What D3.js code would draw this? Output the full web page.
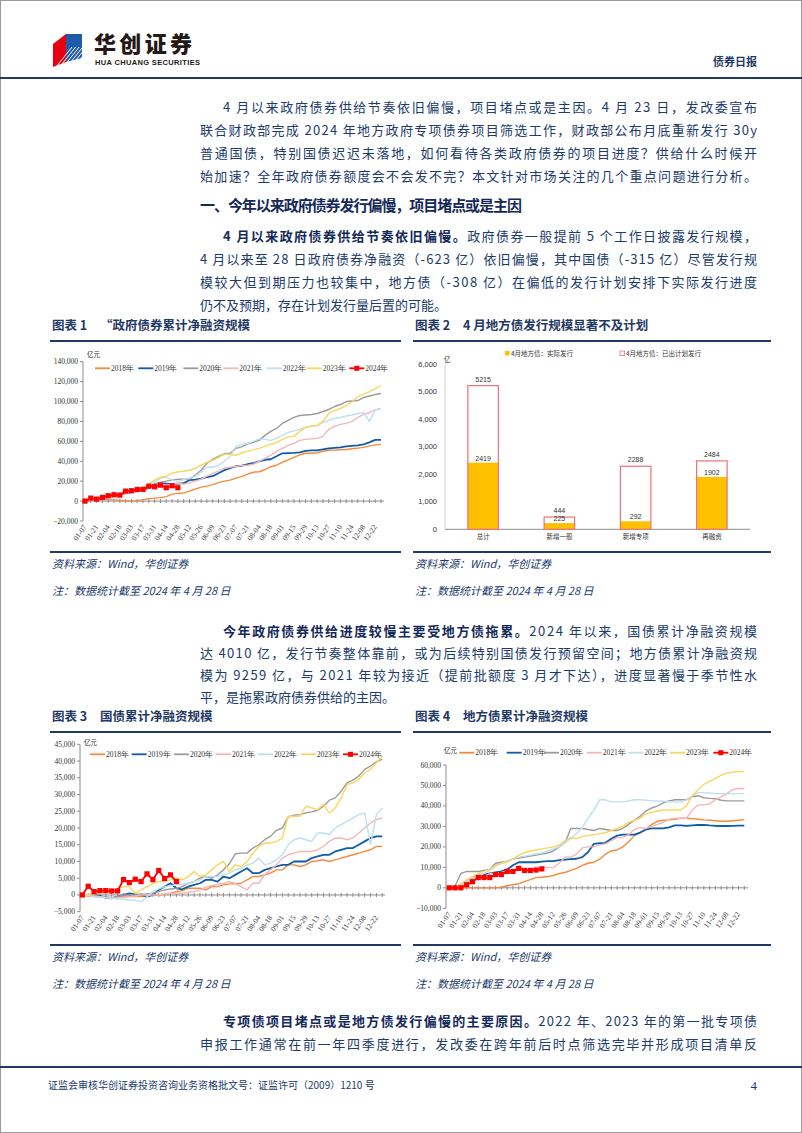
<!DOCTYPE html>
<html>
<head>
<meta charset="utf-8">
<script src="https://cdn.jsdelivr.net/npm/d3@7"></script>
<style>
  body { margin: 0; background: #fff; }
  svg { display: block; }
</style>
</head>
<body>
<div id="page"></div>
<script>
// ---- data ----
var weeks = ["01-07","01-14","01-21","01-28","02-04","02-11","02-18","02-25","03-03","03-10","03-17","03-24",
  "03-31","04-07","04-14","04-21","04-28","05-05","05-12","05-19","05-26","06-02","06-09","06-16","06-23","06-30",
  "07-07","07-14","07-21","07-28","08-04","08-11","08-18","08-25","09-01","09-08","09-15","09-22","09-29","10-06",
  "10-13","10-20","10-27","11-03","11-10","11-17","11-24","12-01","12-08","12-15","12-22","12-29"];
var years = ["2018年","2019年","2020年","2021年","2022年","2023年","2024年"];

// 图表1 政府债券累计净融资（亿元）
var gov2018 = [0,500,1000,1500,1500,1200,800,300,200,500,1500,2500,3000,3500,4500,7000,7800,8000,10000,12000,14000,15000,16500,18500,20000,21000,23000,24500,27000,29000,29500,31500,34500,36000,39000,41500,44000,46500,48000,48000,48500,50000,51000,51200,51500,51800,52500,53200,54000,55500,56500,57000];
var gov2019 = [0,1000,2000,3000,4000,5000,6000,8000,9000,10000,11500,13000,17000,18000,17500,17000,17500,18000,21000,21500,22500,24000,25000,28000,31000,33000,35000,35500,37000,38000,40000,41500,42000,45000,48000,48200,48500,49000,50500,51000,51000,52000,53000,53500,54000,55000,55500,56000,57000,59000,61500,61500];
var gov2020 = [0,1000,2000,3500,5000,6000,7000,8000,9000,10000,11500,13000,17000,19000,20000,21000,22000,22000,22000,26000,31000,38000,42000,45000,47500,48000,53000,54500,57500,59000,61000,66000,70000,73000,78000,81000,84000,86000,86500,87000,88000,90000,92000,95000,97000,100000,100500,101000,104000,105500,107000,108000];
var gov2021 = [0,1000,2000,3000,4500,5500,6500,8000,9000,10500,12000,13500,15000,15500,16000,17000,18000,17000,18000,20000,22000,25000,27500,30000,33000,34000,35000,35500,36000,37000,40000,43000,46000,50000,53000,56000,58000,61000,62000,62500,63000,65000,72000,75000,77000,78000,80000,84000,87000,89000,91500,93000];
var gov2022 = [0,1000,2000,3500,5000,6000,7000,8500,10000,11000,12500,15000,19000,23000,24000,21000,20000,21500,23000,25000,29000,34000,34000,36000,40000,45000,55000,57000,58000,60000,62500,62000,61000,63000,66000,69000,70500,72000,74000,75000,75500,79000,81000,83000,84000,85500,86500,88000,89000,80000,91500,93000];
var gov2023 = [0,1500,3000,4500,5500,6500,7500,9000,10500,12000,14000,17000,21000,24000,25000,28000,29500,30000,31000,33000,36000,39000,41000,44000,47000,47000,46000,48500,50000,51500,53000,55000,57000,58500,62000,64500,65000,70000,74000,75500,76000,80000,88000,91000,93000,96000,99500,105000,107500,110000,113000,116000];
var gov2024 = [0,3000,2000,3700,5400,6400,6000,10000,10400,11700,11700,15000,14400,16000,13400,15400,13400];

// 图表2 4月地方债发行（亿元）
var barCats = ["总计","新增一般","新增专项","再融资"];
var barActual = [2419,225,292,1902];
var barPlan = [5215,444,2288,2484];
var barLegend = ["4月地方债：实际发行","4月地方债：已出计划发行"];

// 图表3 国债累计净融资（亿元）
var nat2018 = [0,-300,-500,-500,-800,-1000,-800,-500,-500,-500,-500,-300,0,0,300,500,1000,1300,2000,2000,2000,1500,2500,2500,3000,3300,3300,3500,4500,5500,5500,6000,6500,7500,7500,9000,9000,8500,9000,10000,10200,10500,10000,10500,11000,11500,12000,12500,13000,13500,14500,14500];
var nat2019 = [0,0,0,-300,-800,-1000,-500,0,500,200,0,-500,0,1500,2500,3500,2000,1700,2500,3000,3500,4500,4500,4000,5500,5000,6000,7000,8000,6500,6500,7500,8000,8500,9000,9000,10000,10000,10000,11000,11500,12000,12000,13000,13500,14000,14000,15000,16000,17000,17500,17500];
var nat2020 = [0,0,-200,-500,-500,-800,-500,0,0,0,200,300,500,1000,1500,1800,2000,2500,3500,4000,5000,5500,5000,6000,7500,9300,12300,12500,12500,14000,15000,16500,17500,19300,20000,23300,23800,24000,24500,24800,25300,26500,28300,29000,31000,33500,34300,35500,37500,38500,39800,40500];
var nat2021 = [0,-200,-300,-500,-800,-1000,-800,-700,-500,-300,0,0,0,0,300,500,500,500,800,1000,1500,2300,2800,3200,3500,4000,3500,2500,1500,3500,3500,6000,7500,9000,11000,12000,12500,13000,13000,13000,13500,14500,16000,17000,17000,16500,17000,18500,20000,21500,22500,23000];
var nat2022 = [0,-200,-500,-600,-800,-1000,-1200,-1300,-1500,-1600,-2000,-500,1000,1800,2500,2800,3000,3200,3500,4000,4500,5500,5500,5500,6000,6500,7500,8000,9000,9500,11000,9000,9500,10500,12000,15000,16500,17000,16500,16000,18500,18500,18000,20000,21000,22000,23000,24000,24500,15000,24000,26000];
var nat2023 = [0,200,300,500,800,1000,1800,2500,2500,500,1500,2500,3500,4000,4200,4500,5000,4500,5500,7000,5500,6000,7500,9000,10000,7000,9000,8500,10000,12500,14500,15500,15500,16000,17000,23500,23500,23500,26500,26000,25500,27000,24500,26000,29000,33000,33500,34500,36500,37500,39500,41500];
var nat2024 = [0,2600,1000,1300,1300,1200,1200,4600,3700,4700,4000,6300,4600,7300,4900,6000,4010];

// 图表4 地方债累计净融资（亿元）
var loc2018 = [0,0,0,0,0,0,0,0,0,300,1000,1500,2000,3000,4000,5000,5200,5500,6000,7000,7500,8500,9500,11000,12000,12500,14000,16500,18000,18500,20000,22500,25500,27000,28500,31000,32500,33000,33200,33500,34000,34000,33800,33500,33200,33000,32800,32500,32500,32800,33000,33300];
var loc2019 = [0,0,1500,3000,5000,6000,6500,7000,7500,8000,9000,11000,12500,12500,12500,12500,12800,13000,13000,13500,13800,14000,14200,15000,17500,21500,21800,22000,24000,25500,26000,26000,26000,27000,28500,29000,29000,29000,29500,30500,30500,30300,30500,30700,30800,30500,30300,30200,30200,30300,30400,30400];
var loc2020 = [0,1000,7000,8000,8000,8000,8500,9000,12000,12500,13000,14000,14500,15000,15500,16000,16500,17000,18000,20000,22000,29000,29000,29000,28500,28000,29000,28500,28000,28000,29000,31000,33000,35000,37500,39000,40000,41500,42500,43000,43000,43000,44500,45000,44000,43700,43500,42800,42500,42500,42500,42500];
var loc2021 = [0,0,500,3000,5000,5200,5500,7000,7200,7500,8000,8500,8800,9000,9300,9500,10000,10000,9800,12000,15000,15000,16500,19500,20000,20000,21000,21500,23000,24500,24500,26000,28500,29500,29000,30000,31000,32000,33500,34000,34000,34000,38000,40500,40500,41000,43000,44500,46000,48000,48500,48500];
var loc2022 = [0,0,1500,3000,5000,6000,7000,8500,10500,12000,13000,14000,15000,15500,16000,16500,17000,18000,19000,20000,22000,24000,26500,29500,34000,38000,43000,43000,42000,42000,42000,42500,43000,43000,42800,42500,42500,42300,42000,42000,42000,43000,45000,46500,46500,46300,46000,46000,46000,46000,46000,46000];
var loc2023 = [0,0,2000,4000,5500,7000,8000,9000,11000,12000,12500,14000,16000,17000,18000,18500,19000,19500,20000,21000,23000,24500,24000,25000,25500,26000,26500,27000,28000,29000,30000,32000,33000,34000,36000,37000,37500,38000,38000,38000,38000,40000,45000,48000,50500,52000,53500,55000,56000,56500,56800,56800];
var loc2024 = [0,0,0,1500,3000,5000,5000,5000,6500,6500,8000,8000,9500,8500,8500,8700,9259];

var yearColors = ["#f58a3c","#0f5ca8","#9b9b9b","#f4b6b8","#bddff0","#fad65c","#ff0000"];

// ---- page ----
var W = 802, H = 1133;
var navy = "#1f3864", ink = "#203a6c";
var cjk = "'Noto Sans CJK SC', 'Noto Sans', sans-serif";
var serif = "'Liberation Serif', 'DejaVu Serif', serif";
var sans = "'Liberation Sans', Arial, sans-serif";

var svg = d3.select("#page").append("svg").attr("width", W).attr("height", H);
svg.append("rect").attr("x", 0.5).attr("y", 0.5).attr("width", W - 1).attr("height", H - 1)
  .attr("fill", "#fff").attr("stroke", "#9a9a9a");

// logo
var logo = svg.append("g");
logo.append("polygon").attr("points", "53,44 66,34 66,62 53,67").attr("fill", "#e60012");
logo.append("polygon").attr("points", "66,34 82,34 82,58 66,62").attr("fill", "#1d5aa8");
for (var k = 0; k < 7; k++) {
  logo.append("line").attr("x1", 56 + k * 3.6).attr("y1", 67).attr("x2", 72 + k * 3.6).attr("y2", 47)
    .attr("stroke", "#fff").attr("stroke-width", 1);
}
logo.append("text").attr("x", 94).attr("y", 52).attr("font-family", cjk).attr("font-weight", 900)
  .attr("font-size", 22).attr("fill", "#231815").attr("textLength", 98).text("华创证券");
logo.append("text").attr("x", 95).attr("y", 65).attr("font-family", sans).attr("font-weight", 700)
  .attr("font-size", 7.5).attr("fill", "#231815").attr("textLength", 105).text("HUA CHUANG SECURITIES");
svg.append("text").attr("x", 757).attr("y", 66).attr("text-anchor", "end").attr("font-family", cjk)
  .attr("font-weight", 700).attr("font-size", 11).attr("fill", navy).text("债券日报");
svg.append("rect").attr("x", 0).attr("y", 77).attr("width", W).attr("height", 2).attr("fill", navy);

// paragraphs: each line is [x, segments, justify]
function para(lines, y0, lh) {
  lines.forEach(function (ln, k) {
    var t = svg.append("text").attr("x", ln[0]).attr("y", y0 + k * lh)
      .attr("font-family", cjk).attr("font-size", 13).attr("fill", ink);
    ln[1].forEach(function (s) {
      t.append("tspan").attr("font-weight", s[1] ? 700 : 400).attr("fill", s[1] ? "#14295a" : ink).text(s[0]);
    });
    if (ln[2]) t.attr("textLength", 757 - ln[0]).attr("lengthAdjust", "spacing");
  });
}

para([
  [223, [["4 月以来政府债券供给节奏依旧偏慢，项目堵点或是主因。4 月 23 日，发改委宣布"]], true],
  [200, [["联合财政部完成 2024 年地方政府专项债券项目筛选工作，财政部公布月底重新发行 30y"]], true],
  [200, [["普通国债，特别国债迟迟未落地，如何看待各类政府债券的项目进度？供给什么时候开"]], true],
  [200, [["始加速？全年政府债券额度会不会发不完？本文针对市场关注的几个重点问题进行分析。"]], true]
], 112, 23);

svg.append("text").attr("x", 200).attr("y", 211).attr("font-family", cjk).attr("font-weight", 700)
  .attr("font-size", 15).attr("fill", "#14295a").attr("textLength", 322).attr("lengthAdjust", "spacing")
  .text("一、今年以来政府债券发行偏慢，项目堵点或是主因");

para([
  [223, [["4 月以来政府债券供给节奏依旧偏慢。", true], ["政府债券一般提前 5 个工作日披露发行规模，"]], true],
  [200, [["4 月以来至 28 日政府债券净融资（-623 亿）依旧偏慢，其中国债（-315 亿）尽管发行规"]], true],
  [200, [["模较大但到期压力也较集中，地方债（-308 亿）在偏低的发行计划安排下实际发行进度"]], true],
  [200, [["仍不及预期，存在计划发行量后置的可能。"]], false]
], 241, 23);

para([
  [223, [["今年政府债券供给进度较慢主要受地方债拖累。", true], ["2024 年以来，国债累计净融资规模"]], true],
  [200, [["达 4010 亿，发行节奏整体靠前，或为后续特别国债发行预留空间；地方债累计净融资规"]], true],
  [200, [["模为 9259 亿，与 2021 年较为接近（提前批额度 3 月才下达），进度显著慢于季节性水"]], true],
  [200, [["平，是拖累政府债券供给的主因。"]], false]
], 636, 22);

para([
  [223, [["专项债项目堵点或是地方债发行偏慢的主要原因。", true], ["2022 年、2023 年的第一批专项债"]], true],
  [200, [["申报工作通常在前一年四季度进行，发改委在跨年前后时点筛选完毕并形成项目清单反"]], true]
], 1026, 23);

// chart frames: titles, rules, sources
function frame(x0, x1, no, title, ty, ruleTop, ruleBot) {
  svg.append("text").attr("x", x0 + 2).attr("y", ty).attr("font-family", cjk).attr("font-weight", 700)
    .attr("font-size", 12.5).attr("fill", navy).text("图表 " + no);
  svg.append("text").attr("x", x0 + 50).attr("y", ty).attr("font-family", cjk).attr("font-weight", 700)
    .attr("font-size", 12.5).attr("fill", navy).text(title);
  svg.append("rect").attr("x", x0).attr("y", ruleTop).attr("width", x1 - x0).attr("height", 2).attr("fill", navy);
  svg.append("rect").attr("x", x0).attr("y", ruleBot).attr("width", x1 - x0).attr("height", 2).attr("fill", navy);
  svg.append("text").attr("x", x0 + 2).attr("y", ruleBot + 17).attr("font-family", cjk).attr("font-style", "italic")
    .attr("font-size", 11).attr("fill", ink).text("资料来源：Wind，华创证券");
  svg.append("text").attr("x", x0 + 2).attr("y", ruleBot + 44).attr("font-family", cjk).attr("font-style", "italic")
    .attr("font-size", 11).attr("fill", ink).text("注：数据统计截至 2024 年 4 月 28 日");
}
frame(50, 401, 1, "“政府债券累计净融资规模", 330, 340, 551);
frame(413, 771, 2, "4 月地方债发行规模显著不及计划", 330, 340, 551);
frame(50, 401, 3, "国债累计净融资规模", 721, 731, 944);
frame(413, 771, 4, "地方债累计净融资规模", 721, 731, 944);

// footer
svg.append("rect").attr("x", 0).attr("y", 1066).attr("width", W).attr("height", 2).attr("fill", navy);
svg.append("text").attr("x", 48).attr("y", 1089).attr("font-family", cjk).attr("font-size", 10).attr("fill", ink)
  .text("证监会审核华创证券投资咨询业务资格批文号：证监许可（2009）1210 号");
svg.append("text").attr("x", 757).attr("y", 1090).attr("text-anchor", "end").attr("font-family", serif)
  .attr("font-size", 13).attr("fill", ink).text("4");

// ---- line charts ----
function lineChart(c) {
  var g = svg.append("g");
  var x = d3.scalePoint().domain(weeks).range(c.xr);
  var y = d3.scaleLinear().domain(c.yd).range(c.yr);
  var axisCol = "#8c8c8c";
  // y axis
  g.append("line").attr("x1", c.ax).attr("x2", c.ax).attr("y1", c.yr[1]).attr("y2", c.yr[0]).attr("stroke", axisCol);
  var yt = d3.range(c.yd[0], c.yd[1] + 1, c.step);
  g.selectAll(".yt").data(yt).enter().append("line")
    .attr("x1", c.ax - 3).attr("x2", c.ax).attr("y1", function (d) { return y(d); }).attr("y2", function (d) { return y(d); })
    .attr("stroke", axisCol);
  g.selectAll(".yl").data(yt).enter().append("text")
    .attr("x", c.ax - 5).attr("y", function (d) { return y(d) + 2.5; }).attr("text-anchor", "end")
    .attr("font-family", serif).attr("font-size", 7.5).attr("fill", "#333").text(d3.format(","));
  // x axis at zero
  var y0 = y(0);
  g.append("line").attr("x1", c.ax).attr("x2", c.axr).attr("y1", y0).attr("y2", y0).attr("stroke", axisCol);
  g.selectAll(".xt").data(weeks).enter().append("line")
    .attr("x1", function (d) { return x(d); }).attr("x2", function (d) { return x(d); })
    .attr("y1", y0 - 2).attr("y2", y0 + 2).attr("stroke", axisCol);
  g.selectAll(".xl").data(weeks.filter(function (d, i) { return i % 2 === 0; })).enter().append("text")
    .attr("transform", function (d) { return "translate(" + (x(d) + 2) + "," + (c.yr[0] + 6) + ") rotate(-55)"; })
    .attr("text-anchor", "end").attr("font-family", serif).attr("font-size", 7.5).attr("fill", "#333").text(function (d) { return d; });
  // unit
  g.append("text").attr("x", c.unit[0]).attr("y", c.unit[1]).attr("font-family", cjk).attr("font-size", 6.5)
    .attr("fill", "#333").text("亿元");
  // series
  var line = d3.line().x(function (d, i) { return x(weeks[i]); }).y(function (d) { return y(d); });
  c.series.forEach(function (s, k) {
    g.append("path").attr("d", line(s)).attr("fill", "none").attr("stroke", yearColors[k])
      .attr("stroke-width", k === 1 ? 1.8 : (k === 6 ? 1.8 : 1.4)).attr("stroke-linejoin", "round");
  });
  var last = c.series[6];
  g.selectAll(".mk").data(last).enter().append("rect")
    .attr("x", function (d, i) { return x(weeks[i]) - 2.6; }).attr("y", function (d) { return y(d) - 2.6; })
    .attr("width", 5.2).attr("height", 5.2).attr("fill", "#ff0000");
  // legend
  years.forEach(function (yr, k) {
    var lx = c.lx[k];
    g.append("line").attr("x1", lx).attr("x2", lx + 15).attr("y1", c.ly).attr("y2", c.ly)
      .attr("stroke", yearColors[k]).attr("stroke-width", 1.8);
    if (k === 6) g.append("rect").attr("x", lx + 5).attr("y", c.ly - 2.5).attr("width", 5).attr("height", 5).attr("fill", "#ff0000");
    g.append("text").attr("x", lx + 16).attr("y", c.ly + 2.6).attr("font-family", serif).attr("font-size", 7.5)
      .attr("fill", "#333").text(yr);
  });
}

lineChart({
  series: [gov2018, gov2019, gov2020, gov2021, gov2022, gov2023, gov2024],
  xr: [85, 381], ax: 83, axr: 384, yd: [-20000, 140000], yr: [521, 361.7], step: 20000,
  ly: 368.3, lx: [95, 138.3, 183.3, 223.3, 266.7, 306.7, 349.3], unit: [87, 357]
});
lineChart({
  series: [nat2018, nat2019, nat2020, nat2021, nat2022, nat2023, nat2024],
  xr: [82.3, 382.3], ax: 80, axr: 385, yd: [-5000, 45000], yr: [911.7, 744.3], step: 5000,
  ly: 754.3, lx: [90, 131.7, 174, 216, 258, 300.7, 343], unit: [84, 745]
});
lineChart({
  series: [loc2018, loc2019, loc2020, loc2021, loc2022, loc2023, loc2024],
  xr: [449.3, 744.3], ax: 446, axr: 748, yd: [-10000, 60000], yr: [908.3, 765], step: 10000,
  ly: 752.7, lx: [459.3, 506.7, 544, 586.7, 628.3, 670, 713.3], unit: [444, 753]
});

// ---- bar chart ----
(function () {
  var g = svg.append("g");
  var x = d3.scaleBand().domain(barCats).range([445, 750]).paddingInner(0.6).paddingOuter(0.3);
  var y = d3.scaleLinear().domain([0, 6000]).range([529.3, 364]);
  var axisCol = "#8c8c8c";
  g.append("line").attr("x1", 445).attr("x2", 750).attr("y1", y(0)).attr("y2", y(0)).attr("stroke", axisCol);
  g.append("line").attr("x1", 445).attr("x2", 445).attr("y1", y(6000)).attr("y2", y(0)).attr("stroke", "#d0d0d0");
  var yt = d3.range(0, 6001, 1000);
  g.selectAll(".yl").data(yt).enter().append("text")
    .attr("x", 437).attr("y", function (d) { return y(d) + 2.5; }).attr("text-anchor", "end")
    .attr("font-family", sans).attr("font-size", 7.5).attr("fill", "#333").text(d3.format(","));
  g.append("text").attr("x", 444).attr("y", 362).attr("font-family", cjk).attr("font-size", 6.5).attr("fill", "#333").text("亿");
  g.selectAll(".act").data(barActual).enter().append("rect")
    .attr("x", function (d, i) { return x(barCats[i]); }).attr("width", x.bandwidth())
    .attr("y", function (d) { return y(d); }).attr("height", function (d) { return y(0) - y(d); })
    .attr("fill", "#ffc000");
  g.selectAll(".plan").data(barPlan).enter().append("rect")
    .attr("x", function (d, i) { return x(barCats[i]); }).attr("width", x.bandwidth())
    .attr("y", function (d) { return y(d); }).attr("height", function (d) { return y(0) - y(d); })
    .attr("fill", "none").attr("stroke", "#ef6f7c").attr("stroke-width", 1.2);
  g.selectAll(".pl").data(barPlan).enter().append("text")
    .attr("x", function (d, i) { return x(barCats[i]) + x.bandwidth() / 2; }).attr("y", function (d) { return y(d) - 4; })
    .attr("text-anchor", "middle").attr("font-family", sans).attr("font-size", 7).attr("fill", "#333").text(function (d) { return d; });
  g.selectAll(".al").data(barActual).enter().append("text")
    .attr("x", function (d, i) { return x(barCats[i]) + x.bandwidth() / 2; }).attr("y", function (d) { return y(d) - 2; })
    .attr("text-anchor", "middle").attr("font-family", sans).attr("font-size", 7).attr("fill", "#333").text(function (d) { return d; });
  g.selectAll(".cl").data(barCats).enter().append("text")
    .attr("x", function (d) { return x(d) + x.bandwidth() / 2; }).attr("y", 539)
    .attr("text-anchor", "middle").attr("font-family", cjk).attr("font-size", 6.5).attr("fill", "#333").text(function (d) { return d; });
  // legend
  g.append("rect").attr("x", 505).attr("y", 351).attr("width", 4.5).attr("height", 4.5).attr("fill", "#ffc000");
  g.append("text").attr("x", 511).attr("y", 356).attr("font-family", cjk).attr("font-size", 6.5).attr("fill", "#333").text(barLegend[0]);
  g.append("rect").attr("x", 620).attr("y", 351).attr("width", 4.5).attr("height", 4.5).attr("fill", "#fff")
    .attr("stroke", "#ef6f7c").attr("stroke-width", 0.8);
  g.append("text").attr("x", 626).attr("y", 356).attr("font-family", cjk).attr("font-size", 6.5).attr("fill", "#333").text(barLegend[1]);
})();
</script>
</body>
</html>
